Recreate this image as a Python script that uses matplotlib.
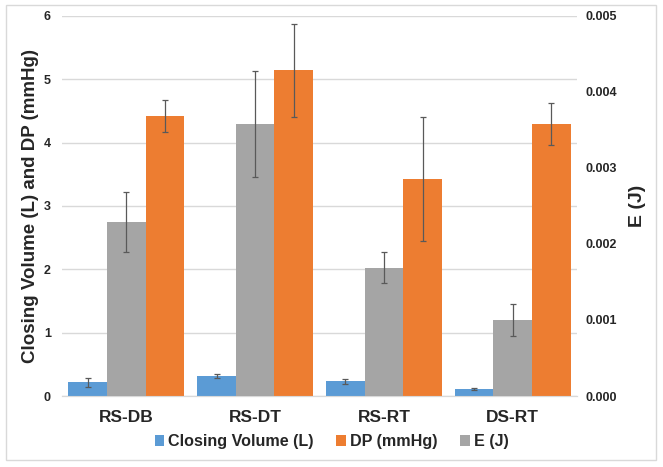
import numpy as np
import matplotlib.pyplot as plt
from matplotlib.patches import Rectangle

plt.rcParams['font.family'] = ['Liberation Sans', 'DejaVu Sans']

groups = ["RS-DB", "RS-DT", "RS-RT", "DS-RT"]
closing_volume = [0.22, 0.32, 0.23, 0.11]
closing_volume_err = [0.07, 0.03, 0.04, 0.02]
dp = [4.42, 5.14, 3.42, 4.29]
dp_err = [0.26, 0.73, 0.98, 0.33]
energy = [0.00229, 0.00358, 0.00169, 0.00100]
energy_err = [0.00040, 0.00070, 0.00020, 0.00021]

blue = "#5B9BD5"
orange = "#ED7D31"
gray = "#A5A5A5"
errc = "#595959"

fig = plt.figure(figsize=(6.63, 4.67), dpi=100)
ax = fig.add_axes([0.0935, 0.152, 0.777, 0.814])
ax2 = ax.twinx()

x = np.arange(len(groups))
w = 0.3
ek = dict(ecolor=errc, elinewidth=0.9, capsize=2.5, capthick=0.9)

b1 = ax.bar(x - w, closing_volume, w, color=blue, yerr=closing_volume_err, error_kw=ek, zorder=3)
b3 = ax.bar(x + w, dp, w, color=orange, yerr=dp_err, error_kw=ek, zorder=3)
b2 = ax2.bar(x, energy, w, color=gray, yerr=energy_err, error_kw=ek, zorder=3)

ax.set_ylim(0, 6)
ax2.set_ylim(0, 0.005)
ax.set_xlim(-0.5, 3.5)
ax.set_yticks(range(7))
ax2.set_yticks([0, 0.001, 0.002, 0.003, 0.004, 0.005])
ax2.set_yticklabels(["0.000", "0.001", "0.002", "0.003", "0.004", "0.005"])

ax.set_xticks(x)
ax.set_xticklabels(groups, fontsize=12.5, fontweight="bold", color="#262626")
ax.tick_params(axis="x", length=0, pad=10)
ax.tick_params(axis="y", length=0, labelsize=9, pad=8, labelcolor="#262626")
ax2.tick_params(axis="y", length=0, labelsize=9, pad=6, labelcolor="#262626")
for lab in ax.get_yticklabels() + ax2.get_yticklabels():
    lab.set_fontweight("bold")

ax.grid(axis="y", color="#D9D9D9", linewidth=1, zorder=0)
ax.set_axisbelow(True)
for a in (ax, ax2):
    for s in ["top", "left", "right"]:
        a.spines[s].set_visible(False)
    a.spines["bottom"].set_color("#D9D9D9")

ax.set_ylabel("Closing Volume (L) and DP (mmHg)", fontsize=13.5, fontweight="bold",
              color="#262626")
ax.yaxis.set_label_coords(-0.045, 0.5)
ax2.set_ylabel("E (J)", fontsize=14, fontweight="bold", color="#262626")
ax2.yaxis.set_label_coords(1.1, 0.5)

fig.legend([b1, b3, b2], ["Closing Volume (L)", "DP (mmHg)", "E (J)"],
           loc="center", bbox_to_anchor=(0.5, 0.054), ncol=3, frameon=False,
           prop={"size": 11.6, "weight": "bold"}, handlelength=0.6, handleheight=0.6,
           handletextpad=0.25, columnspacing=1.4, labelcolor="#262626")

fig.patches.append(Rectangle((6 / 663, 7 / 467), 650 / 663, 455 / 467,
                             transform=fig.transFigure, fill=False,
                             edgecolor="#D9D9D9", linewidth=1))

fig.savefig("out.png", dpi=100)
